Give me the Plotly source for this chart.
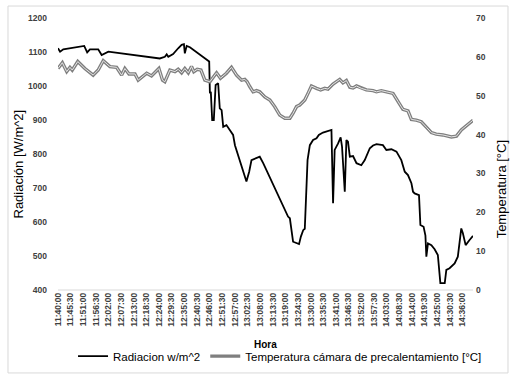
import plotly.graph_objects as go

# x tick labels (category labels of the time axis)
tick_labels = ["11:40:00", "11:45:30", "11:51:00", "11:56:30", "12:02:00", "12:07:30",
               "12:13:00", "12:18:30", "12:24:00", "12:29:30", "12:35:00", "12:40:30",
               "12:46:00", "12:51:30", "12:57:00", "13:02:30", "13:08:00", "13:13:30",
               "13:19:00", "13:24:30", "13:30:00", "13:35:30", "13:41:00", "13:46:30",
               "13:52:00", "13:57:30", "14:03:00", "14:08:30", "14:14:00", "14:19:30",
               "14:25:00", "14:30:30", "14:36:00"]

# Radiation series: elapsed minutes after 11:40:00 and W/m^2
rad_min = [0, 0.9, 2.3, 8.8, 11.4, 12.7, 13.9, 17.5, 19.0, 21.9, 44.3, 46.5, 47.3, 48.0,
           50.1, 52.3, 53.8, 54.8, 55.2, 56.0, 57.4, 65.8, 66.1, 66.5, 67.1, 67.8, 68.6,
           69.7, 70.4, 71.2, 71.9, 73.3, 74.8, 76.2, 77.0, 82.0, 83.2, 84.2, 87.8, 89.3,
           100.1, 100.9, 102.3, 103.8, 104.9, 105.7, 106.7, 107.4, 108.6, 109.6, 111.0,
           112.5, 113.5, 115.3, 119.0, 119.7, 120.4, 121.9, 123.0, 123.6, 124.8, 125.5,
           126.2, 127.0, 128.4, 129.9, 132.0, 133.5, 135.7, 137.1, 138.6, 141.4, 142.9,
           145.1, 147.3, 149.4, 150.9, 152.3, 153.8, 154.5, 155.2, 157.1, 157.7, 159.1,
           159.9, 160.3, 161.0, 162.5, 163.9, 165.3, 166.4, 168.3, 169.0, 170.4, 172.6,
           174.0, 175.5, 176.2, 177.4, 179.1, 180.6]
rad_val = [1111, 1101, 1108, 1116, 1118, 1099, 1108, 1108, 1091, 1101, 1081, 1086, 1093, 1086,
           1094, 1111, 1121, 1123, 1096, 1118, 1114, 1072, 979, 983, 900, 900, 1003,
           1008, 934, 929, 880, 885, 871, 856, 826, 719, 748, 782, 792, 773,
           616, 611, 542, 537, 535, 557, 576, 580, 782, 826, 841,
           846, 856, 863, 871, 655, 812, 831, 849, 822, 689, 841,
           836, 792, 794, 773, 767, 782, 817, 825, 829, 826, 812,
           814, 807, 782, 748, 738, 714, 689, 684, 679, 591, 586,
           560, 498, 537, 532, 520, 503, 420, 420, 459, 464, 478,
           498, 581, 567, 532, 547, 559]

# Temperature series: elapsed minutes after 11:40:00 and °C
temp_min = [0, 1.9, 3.8, 5.2, 6.2, 8.6, 11.7, 15.3, 17.5, 19.7, 22.6, 25.5, 27.7, 29.1,
            30.9, 33.5, 34.9, 38.6, 40.7, 43.9, 45.5, 46.5, 48.7, 50.9, 52.3, 53.8, 55.2,
            56.7, 58.1, 59.1, 60.6, 62.2, 63.9, 66.1, 69.0, 70.7, 73.3, 75.5, 77.7, 79.9,
            81.3, 82.3, 83.5, 84.9, 86.4, 87.8, 90.0, 92.2, 94.3, 96.5, 98.7, 100.9, 102.3,
            103.8, 105.2, 107.4, 108.8, 110.3, 112.5, 114.3, 116.1, 117.5, 119.7, 122.6,
            124.0, 125.5, 127.0, 128.4, 129.9, 132.0, 134.2, 137.1, 138.6, 140.7, 142.9,
            145.8, 148.0, 150.1, 152.3, 153.8, 155.9, 158.1, 160.3, 162.5, 164.6, 167.5,
            171.2, 173.4, 175.5, 177.7, 180.6]
temp_val = [57.0, 58.5, 56.2, 57.3, 56.6, 58.8, 57.0, 55.3, 56.6, 59.0, 57.5, 57.3, 55.3, 57.0,
            55.6, 55.6, 54.0, 55.8, 55.1, 57.0, 54.0, 53.6, 56.6, 56.2, 56.8, 55.9, 57.0,
            55.9, 57.5, 56.2, 56.8, 56.6, 54.0, 53.6, 55.9, 54.5, 55.8, 57.3, 55.3, 54.0,
            54.2, 53.6, 52.3, 51.0, 51.3, 51.0, 49.7, 48.9, 47.2, 45.0, 44.2, 44.2, 45.5,
            47.2, 47.6, 48.9, 50.6, 52.5, 51.9, 51.5, 51.9, 51.7, 53.0, 54.2,
            53.3, 53.9, 52.2, 52.0, 52.5, 51.9, 51.5, 51.3, 51.0, 51.3, 51.0,
            50.6, 48.5, 46.5, 46.1, 43.9, 43.7, 43.3, 41.9, 40.5, 40.1, 39.9,
            39.4, 39.6, 41.2, 42.2, 43.7]


def to_min(s):
    h, m, sec = (int(v) for v in s.split(":"))
    return (h - 11) * 60 + (m - 40) + sec / 60.0


tick_vals = [to_min(s) for s in tick_labels]

FONT = "Liberation Sans"
fig = go.Figure()
fig.add_trace(go.Scatter(x=rad_min, y=rad_val, mode="lines", name="Radiacion w/m^2",
                         line=dict(color="#000000", width=1.8), yaxis="y"))
fig.add_trace(go.Scatter(x=temp_min, y=temp_val, mode="lines",
                         name="Temperatura cámara de precalentamiento [°C]",
                         line=dict(color="#7f7f7f", width=3.4), yaxis="y2"))
fig.add_trace(go.Scatter(x=temp_min, y=temp_val, mode="lines", showlegend=False,
                         hoverinfo="skip",
                         line=dict(color="#e6e6e6", width=1), yaxis="y2"))

tickfont = dict(family=FONT, size=8.5, color="#404040", weight="bold")
fig.update_layout(
    width=519, height=380,
    margin=dict(l=58, r=46, t=18, b=90, autoexpand=False),
    paper_bgcolor="white", plot_bgcolor="white",
    xaxis=dict(range=[0, 180.6], tickmode="array", tickvals=tick_vals, ticktext=tick_labels,
               tickangle=-90, tickfont=tickfont, showgrid=False, zeroline=False,
               showline=False, ticks="", automargin=False),
    yaxis=dict(range=[400, 1200], dtick=100, tickfont=tickfont, showgrid=False,
               zeroline=False, showline=False, ticks="", ticklabelstandoff=10,
               automargin=False),
    yaxis2=dict(range=[0, 70], dtick=10, overlaying="y", side="right", tickfont=tickfont,
                showgrid=False, zeroline=False, showline=False, ticks="",
                ticklabelstandoff=2, automargin=False),
    showlegend=True,
    legend=dict(orientation="h", x=0.535, xanchor="center", y=-0.243, yanchor="middle",
                font=dict(family=FONT, size=11.5, color="#000000"),
                itemwidth=30, tracegroupgap=0, bgcolor="rgba(0,0,0,0)"),
    shapes=[
        dict(type="line", xref="paper", yref="paper", x0=0, x1=1, y0=0, y1=0,
             line=dict(color="#d9d9d9", width=1)),
        dict(type="rect", xref="paper", yref="paper", x0=-0.1205, x1=1.0843,
             y0=-0.305, y1=1.044, line=dict(color="#d9d9d9", width=1)),
    ],
    annotations=[
        dict(text="Radiación [W/m^2]", xref="paper", yref="paper", x=-0.094, y=0.465,
             textangle=-90, showarrow=False, xanchor="center", yanchor="middle",
             font=dict(family=FONT, size=13, color="#000000")),
        dict(text="Temperatura [°C]", xref="paper", yref="paper", x=1.0675, y=0.37,
             textangle=-90, showarrow=False, xanchor="center", yanchor="middle",
             font=dict(family=FONT, size=13, color="#000000")),
        dict(text="Hora", xref="paper", yref="paper", x=0.499, y=-0.199,
             showarrow=False, xanchor="center", yanchor="middle",
             font=dict(family=FONT, size=10, color="#000000", weight="bold")),
    ],
)

fig.write_html("out.html", config={"displayModeBar": False},
               post_script="document.body.style.margin='0';document.body.style.padding='0';")
